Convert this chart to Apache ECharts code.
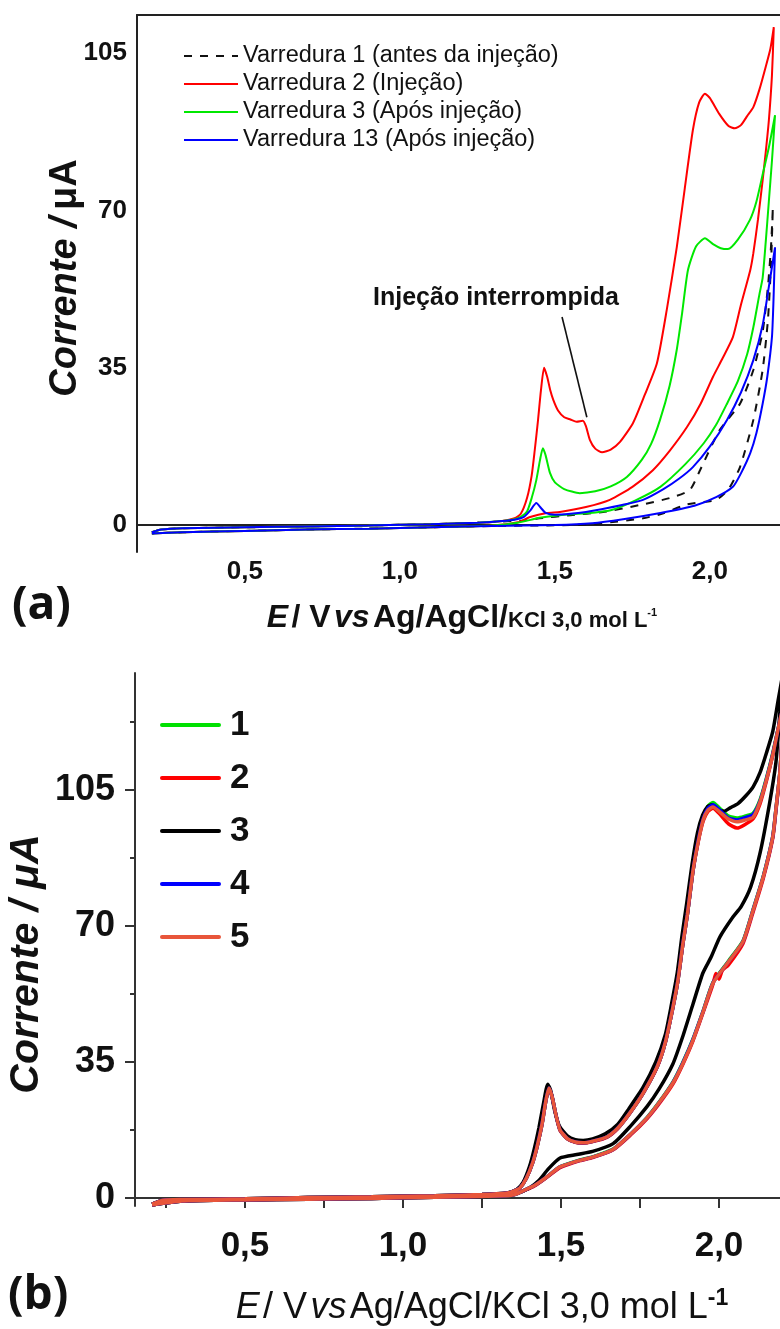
<!DOCTYPE html>
<html><head><meta charset="utf-8">
<script src="https://cdn.jsdelivr.net/npm/echarts@6/dist/echarts.min.js"></script>
<style>html,body{margin:0;padding:0;background:#fff}#c{width:780px;height:1329px}</style>
</head><body><div id="c"></div>
<script>
// ---------- Panel (a) data: [E (V), I (uA)] ----------
const namesA = ['Varredura 1 (antes da injeção)', 'Varredura 2 (Injeção)', 'Varredura 3 (Após injeção)', 'Varredura 13 (Após injeção)'];
const varredura1 = [[0.2,-1.6],[0.23,-1.0],[0.3,-0.7],[0.5,-0.5],[0.7,-0.3],[0.9,-0.1],[1.1,0.2],[1.25,0.5],[1.33,0.8],[1.4,1.0],[1.45,1.5],[1.55,2.2],[1.655,2.9],[1.77,4.4],[1.87,6.0],[1.935,7.8],[1.968,12.2],[2.03,21],[2.097,27],[2.14,34.5],[2.17,43],[2.187,53],[2.197,62],[2.203,70.7],
  [2.197,58],[2.187,45.6],[2.17,34.5],[2.14,23.4],[2.097,12.9],[2.06,8.0],[2.02,5.6],[1.926,4.6],[1.85,2.6],[1.784,1.5],[1.65,0.4],[1.55,0.0],[1.3,-0.2],[1.1,-0.5],[0.9,-0.8],[0.7,-1.0],[0.5,-1.3],[0.3,-1.6],[0.2,-1.9]];
const varredura2 = [[0.2,-1.6],[0.23,-1.0],[0.3,-0.7],[0.5,-0.5],[0.7,-0.3],[0.9,-0.1],[1.1,0.2],[1.25,0.5],[1.33,0.9],[1.37,1.5],[1.39,2.5],[1.41,6],[1.425,11],[1.435,16.7],[1.445,23],[1.455,30],[1.465,35],[1.475,33],[1.485,30],[1.495,27.8],[1.51,25.5],[1.53,24],[1.55,23.5],[1.57,23],[1.59,23.2],[1.60,22],[1.613,18.9],[1.63,17],[1.652,16.2],[1.68,16.8],[1.71,18.5],[1.752,22.7],[1.79,29],[1.829,36],[1.861,48],[1.893,61.8],[1.919,75],[1.945,87.9],[1.965,94],[1.984,96],[2.0,95],[2.03,91.5],[2.06,88.8],[2.08,88.3],[2.10,89],[2.12,91],[2.14,93],[2.16,97],[2.18,102],[2.195,106],[2.206,110.8],
  [2.2,100],[2.19,90],[2.18,83],[2.17,76.7],[2.155,68],[2.14,60.5],[2.13,56.7],[2.1,49],[2.074,41.8],[2.04,37],[2.01,33],[1.97,27],[1.926,21.8],[1.87,16.5],[1.816,12.2],[1.75,8.5],[1.677,5.6],[1.6,4.0],[1.516,2.9],[1.474,2.7],[1.42,1.8],[1.38,0.6],[1.3,-0.1],[1.1,-0.5],[0.9,-0.8],[0.7,-1.0],[0.5,-1.3],[0.3,-1.6],[0.2,-1.9]];
const varredura3 = [[0.2,-1.6],[0.23,-1.0],[0.3,-0.7],[0.5,-0.5],[0.7,-0.3],[0.9,-0.1],[1.1,0.2],[1.25,0.5],[1.33,0.9],[1.37,1.3],[1.39,1.8],[1.41,3],[1.425,6],[1.44,10],[1.452,14.5],[1.461,17.1],[1.47,15.5],[1.484,11.6],[1.5,9.5],[1.53,8],[1.58,7.1],[1.63,7.5],[1.68,8.6],[1.732,10.7],[1.78,14.5],[1.81,18],[1.839,23.4],[1.87,31],[1.893,39],[1.91,47],[1.929,56.7],[1.955,62],[1.984,63.8],[2.01,62.5],[2.035,61.6],[2.058,61.4],[2.09,63.5],[2.129,67.9],[2.15,72],[2.171,78.3],[2.19,84],[2.21,91.2],
  [2.2,81],[2.19,72],[2.18,63],[2.17,55],[2.16,51.5],[2.14,44],[2.12,38],[2.09,32],[2.055,27],[2.02,22.3],[1.98,18.2],[1.92,13.5],[1.84,8.5],[1.76,5.5],[1.68,3.3],[1.6,2.6],[1.516,2.2],[1.45,1.6],[1.38,0.5],[1.3,-0.1],[1.1,-0.5],[0.9,-0.8],[0.7,-1.0],[0.5,-1.3],[0.3,-1.6],[0.2,-1.9]];
const varredura13 = [[0.2,-1.6],[0.23,-1.0],[0.3,-0.7],[0.5,-0.5],[0.7,-0.3],[0.9,-0.1],[1.1,0.2],[1.25,0.5],[1.33,0.9],[1.37,1.2],[1.40,1.8],[1.42,3.2],[1.44,4.9],[1.455,3.8],[1.47,2.7],[1.5,2.3],[1.55,2.5],[1.6,2.9],[1.65,3.5],[1.72,4.5],[1.784,5.6],[1.85,8],[1.9,10.3],[1.945,12.9],[2.0,17.5],[2.055,23.4],[2.1,29.5],[2.14,36.7],[2.17,44.5],[2.19,53],[2.21,61.8],
  [2.205,50],[2.2,41.8],[2.185,33],[2.17,27],[2.15,20.5],[2.13,16],[2.1,11.5],[2.074,8.5],[2.02,6.2],[1.95,4.3],[1.84,2.7],[1.72,1.3],[1.62,0.4],[1.5,0.0],[1.3,-0.2],[1.1,-0.5],[0.9,-0.8],[0.7,-1.0],[0.5,-1.3],[0.3,-1.6],[0.2,-1.9]];
const ticksAx = [0.5, 1.0, 1.5, 2.0];
const ticksAy = [0, 35, 70, 105];
const arrowFrom = [1.523, 46.3];
const arrowTo = [1.603, 24.0];

// ---------- Panel (b) data ----------
const namesB = ['1', '2', '3', '4', '5'];
const curve1 = [[0.206,-1.6],[0.24,-0.6],[0.3,-0.4],[0.5,-0.2],[0.7,0.1],[0.9,0.3],[1.1,0.6],[1.25,0.9],[1.33,1.3],[1.35,1.8],[1.37,2.6],[1.39,5],[1.41,9],[1.424,13.1],[1.44,19],[1.452,25],[1.462,28.4],[1.472,26],[1.485,21],[1.497,17.5],[1.52,15.3],[1.545,14.4],[1.57,14.2],[1.6,14.6],[1.645,15.7],[1.68,18],[1.718,21.9],[1.76,27],[1.804,33.7],[1.83,40],[1.854,49],[1.87,56],[1.886,65.6],[1.9,73],[1.918,84.4],[1.935,92.5],[1.95,98],[1.965,100.8],[1.981,101.8],[2.0,100.5],[2.03,98.3],[2.057,97.8],[2.08,98.2],[2.108,99],[2.13,102.5],[2.15,108],[2.17,114.5],[2.193,123],[2.205,127],
  [2.193,110],[2.18,100],[2.17,93],[2.14,82.8],[2.108,74.3],[2.076,66.2],[2.03,61],[1.981,55.5],[1.95,48.2],[1.918,41],[1.885,34.8],[1.854,29.8],[1.81,24.6],[1.772,20.7],[1.72,16.4],[1.665,12.6],[1.6,10.6],[1.56,9.8],[1.497,8.0],[1.455,5.4],[1.42,3.4],[1.40,2.6],[1.35,0.8],[1.3,0.5],[1.1,0.2],[0.9,-0.1],[0.7,-0.3],[0.5,-0.5],[0.3,-0.8],[0.206,-1.8]];
const curve2 = [[0.206,-1.6],[0.24,-0.6],[0.3,-0.4],[0.5,-0.2],[0.7,0.1],[0.9,0.3],[1.1,0.6],[1.25,0.9],[1.33,1.3],[1.35,1.8],[1.37,2.6],[1.39,5],[1.41,9],[1.424,13.1],[1.44,19],[1.452,25],[1.462,28.2],[1.472,26],[1.485,21],[1.497,17.4],[1.52,15.2],[1.545,14.3],[1.57,14.1],[1.6,14.5],[1.645,15.6],[1.68,17.9],[1.718,21.8],[1.76,26.9],[1.804,33.6],[1.83,40],[1.854,49],[1.87,56],[1.886,65.5],[1.9,73],[1.918,84.3],[1.935,92],[1.95,97],[1.965,99.5],[1.981,100.3],[2.0,99],[2.03,96.3],[2.057,95.2],[2.08,96],[2.108,97.6],[2.13,101.5],[2.15,107.3],[2.17,114],[2.193,122.8],[2.205,127],
  [2.193,109.5],[2.18,99.5],[2.17,92.5],[2.14,82.2],[2.108,73.6],[2.076,65.5],[2.03,60],[2.01,58.5],[2.0,56.3],[1.99,57.8],[1.981,55],[1.95,47.8],[1.918,40.5],[1.885,34.3],[1.854,29.3],[1.81,24.2],[1.772,20.4],[1.72,16.2],[1.665,12.4],[1.6,10.4],[1.56,9.6],[1.497,7.8],[1.455,5.3],[1.42,3.3],[1.40,2.5],[1.35,0.8],[1.3,0.5],[1.1,0.2],[0.9,-0.1],[0.7,-0.3],[0.5,-0.5],[0.3,-0.8],[0.206,-1.8]];
const curve3 = [[0.206,-1.6],[0.24,-0.6],[0.3,-0.4],[0.5,-0.2],[0.7,0.1],[0.9,0.3],[1.1,0.6],[1.25,0.9],[1.33,1.3],[1.36,2.2],[1.38,4],[1.40,8],[1.415,12.5],[1.43,18],[1.445,24.5],[1.458,29.3],[1.468,27.5],[1.48,22.5],[1.495,18.5],[1.52,16],[1.545,15],[1.57,14.8],[1.6,15.2],[1.64,16.5],[1.68,19],[1.715,23],[1.76,28.5],[1.80,35],[1.83,42],[1.85,50],[1.868,58],[1.882,67],[1.898,76],[1.915,86],[1.932,94],[1.948,98.5],[1.965,100.8],[1.978,101.2],[1.995,100],[2.015,99.5],[2.035,100.4],[2.06,101.5],[2.085,103.5],[2.108,105.8],[2.13,109.5],[2.15,114.5],[2.17,120],[2.187,128],[2.2,134],
  [2.19,122],[2.18,112],[2.16,101.6],[2.13,88.8],[2.1,80],[2.07,75],[2.044,72.3],[2.003,67.2],[1.975,62],[1.949,57.9],[1.918,50],[1.885,41.5],[1.854,34.5],[1.81,28],[1.772,23.5],[1.72,18.5],[1.665,14],[1.6,12],[1.55,11.2],[1.497,10.3],[1.46,7.5],[1.43,4.5],[1.40,2.6],[1.36,1.2],[1.3,0.5],[1.1,0.2],[0.9,-0.1],[0.7,-0.3],[0.5,-0.5],[0.3,-0.8],[0.206,-1.8]];
const curve4 = [[0.206,-1.6],[0.24,-0.6],[0.3,-0.4],[0.5,-0.2],[0.7,0.1],[0.9,0.3],[1.1,0.6],[1.25,0.9],[1.33,1.3],[1.35,1.8],[1.37,2.6],[1.39,5],[1.41,9],[1.424,13.1],[1.44,19],[1.452,25],[1.462,28.3],[1.472,26],[1.485,21],[1.497,17.5],[1.52,15.3],[1.545,14.4],[1.57,14.2],[1.6,14.6],[1.645,15.7],[1.68,18],[1.718,21.9],[1.76,27],[1.804,33.7],[1.83,40],[1.854,49],[1.87,56],[1.886,65.6],[1.9,73],[1.918,84.4],[1.935,92.3],[1.95,97.6],[1.965,100.3],[1.981,101.2],[2.0,100],[2.03,97.8],[2.057,97.3],[2.08,97.8],[2.108,98.7],[2.13,102.2],[2.15,107.8],[2.17,114.2],[2.193,123],[2.205,127],
  [2.193,110],[2.18,100],[2.17,93],[2.14,82.7],[2.108,74.2],[2.076,66],[2.03,60.8],[1.981,55.4],[1.95,48.1],[1.918,40.9],[1.885,34.7],[1.854,29.7],[1.81,24.5],[1.772,20.6],[1.72,16.4],[1.665,12.5],[1.6,10.5],[1.56,9.7],[1.497,8.0],[1.455,5.4],[1.42,3.4],[1.40,2.6],[1.35,0.8],[1.3,0.5],[1.1,0.2],[0.9,-0.1],[0.7,-0.3],[0.5,-0.5],[0.3,-0.8],[0.206,-1.8]];
const curve5 = [[0.206,-1.6],[0.24,-0.6],[0.3,-0.4],[0.5,-0.2],[0.7,0.1],[0.9,0.3],[1.1,0.6],[1.25,0.9],[1.33,1.3],[1.35,1.8],[1.37,2.6],[1.39,5],[1.41,9],[1.424,13.1],[1.44,19],[1.452,25],[1.462,28.3],[1.472,26],[1.485,21],[1.497,17.5],[1.52,15.3],[1.545,14.4],[1.57,14.2],[1.6,14.6],[1.645,15.7],[1.68,18],[1.718,21.9],[1.76,27],[1.804,33.7],[1.83,40],[1.854,49],[1.87,56],[1.886,65.6],[1.9,73],[1.918,84.4],[1.935,92],[1.95,97.3],[1.965,99.8],[1.981,100.6],[2.0,99.5],[2.03,97.5],[2.057,96.8],[2.08,97.2],[2.108,98],[2.13,102],[2.15,107.6],[2.17,114],[2.193,123],[2.205,127],
  [2.193,110],[2.18,100],[2.17,92.9],[2.14,82.6],[2.108,74.1],[2.076,66],[2.03,60.8],[1.981,55.3],[1.95,48],[1.918,40.7],[1.885,34.5],[1.854,29.6],[1.81,24.5],[1.772,20.6],[1.72,16.4],[1.665,12.5],[1.6,10.5],[1.56,9.7],[1.497,8.0],[1.455,5.4],[1.42,3.4],[1.40,2.6],[1.35,0.8],[1.3,0.5],[1.1,0.2],[0.9,-0.1],[0.7,-0.3],[0.5,-0.5],[0.3,-0.8],[0.206,-1.8]];
const ticksBxLabels = [0.5, 1.0, 1.5, 2.0];
const ticksBxAll = [0.25, 0.5, 0.75, 1.0, 1.25, 1.5, 1.75, 2.0];
const ticksBy = [0, 35, 70, 105];
const ticksByMinor = [17.5, 52.5, 87.5, 122.5];

const FONT = 'Arial, "Liberation Sans", Helvetica, sans-serif';
const comma = v => String(v.toFixed(1)).replace('.', ',');
const fmtInt = v => String(Math.round(v));

const chart = echarts.init(document.getElementById('c'), null, {renderer: 'canvas'});

const frameA = {show: true, lineStyle: {color: '#222', width: 2}};
const frameB = {show: true, lineStyle: {color: '#333', width: 2}};

function lineSeries(name, data, color, width, xi, yi, extra) {
  return Object.assign({
    name, type: 'line', data, xAxisIndex: xi, yAxisIndex: yi,
    showSymbol: false, symbol: 'none', smooth: 0.2, clip: true,
    lineStyle: {color, width}, itemStyle: {color}, animation: false, z: 3
  }, extra || {});
}

const option = {
  animation: false,
  backgroundColor: '#fff',
  grid: [
    {left: 137, top: 15, width: 643, height: 537, show: false},
    {left: 135, top: 673, width: 645, height: 533, show: false}
  ],
  xAxis: [
    {gridIndex: 0, type: 'value', min: 0.152, max: 2.226, position: 'bottom',
     axisLine: frameA, axisTick: {show: false}, splitLine: {show: false},
     axisLabel: {customValues: ticksAx, formatter: comma, margin: 7, color: '#111', fontSize: 26, fontWeight: 'bold', fontFamily: FONT}},
    {gridIndex: 0, type: 'value', min: 0.152, max: 2.226, position: 'top',
     axisLine: frameA, axisTick: {show: false}, axisLabel: {show: false}, splitLine: {show: false}},
    {gridIndex: 1, type: 'value', min: 0.152, max: 2.193, position: 'bottom',
     axisLine: frameB, axisTick: {show: true, inside: false, length: 10, customValues: ticksBxAll, lineStyle: {color: '#333', width: 2}},
     splitLine: {show: false},
     axisLabel: {customValues: ticksBxLabels, formatter: comma, margin: 23, color: '#111', fontSize: 35, fontWeight: 'bold', fontFamily: FONT}},
    {gridIndex: 1, type: 'value', min: 0.152, max: 2.193, position: 'top',
     axisLine: frameB, axisTick: {show: false}, axisLabel: {show: false}, splitLine: {show: false}}
  ],
  yAxis: [
    {gridIndex: 0, type: 'value', min: -6, max: 113.5, position: 'left',
     axisLine: frameA, axisTick: {show: false}, splitLine: {show: false},
     axisLabel: {customValues: ticksAy, formatter: fmtInt, margin: 10, color: '#111', fontSize: 26, fontWeight: 'bold', fontFamily: FONT}},
    {gridIndex: 1, type: 'value', min: -2.06, max: 135.1, position: 'left',
     axisLine: frameB, axisTick: {show: true, inside: false, length: 10, customValues: ticksBy, lineStyle: {color: '#333', width: 2}},
     splitLine: {show: false},
     axisLabel: {customValues: ticksBy, formatter: fmtInt, margin: 20, color: '#111', fontSize: 36, fontWeight: 'bold', fontFamily: FONT}},
    {gridIndex: 1, type: 'value', min: -2.06, max: 135.1, position: 'left',
     axisLine: {show: false}, axisTick: {show: true, inside: false, length: 5, customValues: ticksByMinor, lineStyle: {color: '#333', width: 2}},
     axisLabel: {show: false}, splitLine: {show: false}}
  ],
  legend: [
    {data: namesA, orient: 'vertical', left: 183, top: 44, padding: 0, itemWidth: 54, itemHeight: 10, itemGap: 4,
     itemStyle: {opacity: 0}, lineStyle: {width: 2},
     textStyle: {fontSize: 23.5, fontFamily: FONT, color: '#111', lineHeight: 24}},
    {data: namesB, orient: 'vertical', left: 160, top: 707, padding: 0, itemWidth: 57, itemHeight: 10, itemGap: 17,
     itemStyle: {opacity: 0}, lineStyle: {width: 4, cap: 'round'},
     textStyle: {fontSize: 35, fontWeight: 'bold', fontFamily: FONT, color: '#111', lineHeight: 36, padding: [0, 0, 0, 6]}}
  ],
  series: [
    lineSeries(namesA[0], varredura1, '#111', 2, 0, 0, {lineStyle: {color: '#111', width: 2, type: [8, 8]}}),
    lineSeries(namesA[1], varredura2, '#ff0000', 2, 0, 0, {
      markLine: {silent: true, animation: false, symbol: ['none', 'arrow'], symbolSize: [0, 12],
        lineStyle: {color: '#111', width: 1.6, type: 'solid'}, label: {show: false},
        data: [[{coord: arrowFrom}, {coord: arrowTo}]]}}),
    lineSeries(namesA[2], varredura3, '#00e800', 2, 0, 0),
    lineSeries(namesA[3], varredura13, '#0000ff', 2, 0, 0),
    lineSeries(namesB[0], curve1, '#00e000', 3.5, 2, 1),
    lineSeries(namesB[1], curve2, '#ff0000', 3.5, 2, 1),
    lineSeries(namesB[2], curve3, '#000000', 3.5, 2, 1),
    lineSeries(namesB[3], curve4, '#0000ff', 3.5, 2, 1),
    lineSeries(namesB[4], curve5, '#e8553a', 3.5, 2, 1)
  ],
  graphic: [
    {type: 'text', x: 66, y: 278, rotation: Math.PI / 2,
     style: {text: '{i|Corrente /} {n|μA}', align: 'center', verticalAlign: 'middle', fill: '#111',
       rich: {i: {fontSize: 38, fontWeight: 'bold', fontStyle: 'italic', fontFamily: FONT, fill: '#111'},
              n: {fontSize: 38, fontWeight: 'bold', fontFamily: FONT, fill: '#111', padding: [0, 0, 0, 4]}}}},
    {type: 'text', x: 27, y: 964, rotation: Math.PI / 2,
     style: {text: '{i|Corrente / μA}', align: 'center', verticalAlign: 'middle', fill: '#111',
       rich: {i: {fontSize: 41, fontWeight: 'bold', fontStyle: 'italic', fontFamily: FONT, fill: '#111'}}}},
    {type: 'text', x: 462, y: 618,
     style: {text: '{bi|E} {b|/ V} {bi|vs} {b|Ag/AgCl/}{s|KCl 3,0 mol L}{sup|-1}', align: 'center', verticalAlign: 'middle', fill: '#111',
       rich: {bi: {fontSize: 32, fontWeight: 'bold', fontStyle: 'italic', fontFamily: FONT, fill: '#111'},
              b: {fontSize: 32, fontWeight: 'bold', fontFamily: FONT, fill: '#111'},
              s: {fontSize: 22, fontWeight: 'bold', fontFamily: FONT, fill: '#111', padding: [6, 0, 0, 0]},
              sup: {fontSize: 11, fontWeight: 'bold', fontFamily: FONT, fill: '#111', padding: [0, 0, 10, 0]}}}},
    {type: 'text', x: 482, y: 1308,
     style: {text: '{i|E} {n|/ V} {i|vs} {n|Ag/AgCl/KCl 3,0 mol L}{sup|-1}', align: 'center', verticalAlign: 'middle', fill: '#111',
       rich: {i: {fontSize: 36, fontStyle: 'italic', fontFamily: FONT, fill: '#111'},
              n: {fontSize: 36, fontFamily: FONT, fill: '#111'},
              sup: {fontSize: 23, fontWeight: 'bold', fontFamily: FONT, fill: '#111', padding: [0, 0, 18, 0]}}}},
    {type: 'text', x: 496, y: 298,
     style: {text: 'Injeção interrompida', align: 'center', verticalAlign: 'middle', fill: '#111',
       font: 'bold 25px ' + FONT}},
    {type: 'text', x: 12, y: 606,
     style: {text: '(a)', align: 'left', verticalAlign: 'middle', fill: '#111', font: 'bold 46px "Open Sans", Lato, sans-serif'}},
    {type: 'text', x: 8, y: 1296,
     style: {text: '(b)', align: 'left', verticalAlign: 'middle', fill: '#111', font: 'bold 46px "Open Sans", Lato, sans-serif'}}
  ]
};
chart.setOption(option);
</script></body></html>
